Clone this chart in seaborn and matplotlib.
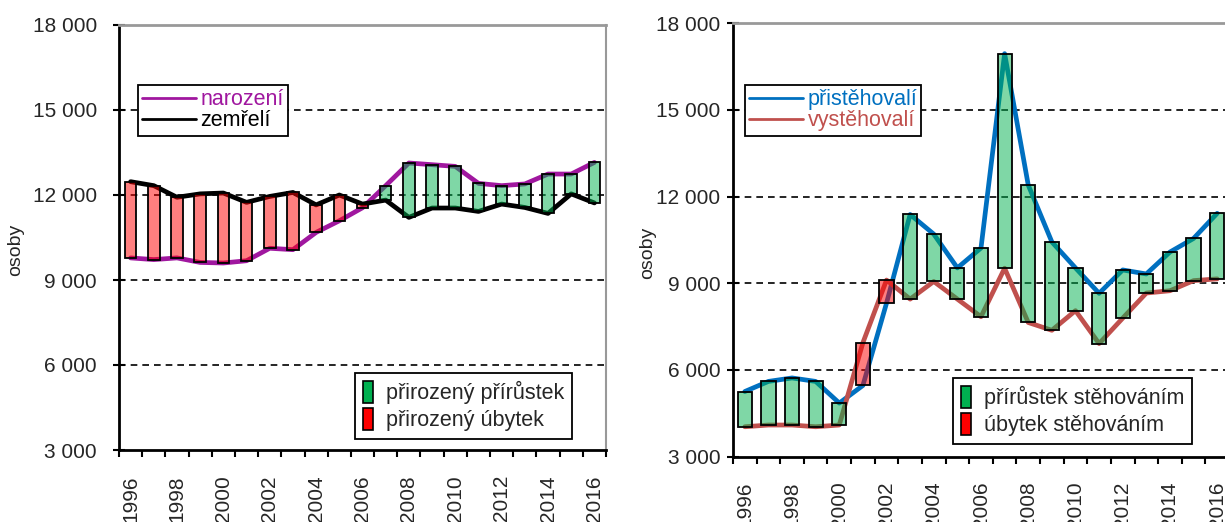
import numpy as np
import pandas as pd
import matplotlib
matplotlib.use("Agg")
import matplotlib.pyplot as plt
from matplotlib.lines import Line2D
from matplotlib.patches import Patch
from matplotlib.ticker import FuncFormatter, FixedLocator
import seaborn as sns

years = list(range(1996, 2017))
narozeni = [9780, 9720, 9780, 9620, 9600, 9680, 10120, 10070, 10680, 11090, 11550,
            12330, 13130, 13070, 13010, 12410, 12330, 12390, 12740, 12740, 13150]
zemreli = [12470, 12330, 11920, 12040, 12070, 11740, 11950, 12090, 11650, 12000, 11680,
           11820, 11210, 11540, 11540, 11420, 11680, 11560, 11350, 12040, 11720]
pristehovali = [5250, 5600, 5720, 5600, 4850, 5460, 8310, 11380, 10700, 9530, 10220,
                16950, 12400, 10430, 9530, 8650, 9460, 9320, 10080, 10550, 11420]
vystehovali = [4030, 4090, 4090, 4030, 4090, 6940, 9110, 8450, 9060, 8450, 7840,
               9520, 7640, 7370, 8050, 6910, 7790, 8660, 8740, 9090, 9150]

y_ticks = [3000, 6000, 9000, 12000, 15000, 18000]
x_labels = list(range(1996, 2017, 2))

sns.set_style("white")
plt.rcParams["font.family"] = ["Liberation Sans", "DejaVu Sans"]

GREEN = "#00b050"
RED = "#ff0000"

fig = plt.figure(figsize=(12.25, 5.22), dpi=100)
axL = fig.add_axes([119/1225, 72/522, 487/1225, 425/522])
axR = fig.add_axes([733/1225, 65.5/522, 496/1225, 433.2/522])


def fmt(v, _):
    s = f"{int(v):,}".replace(",", " ")
    return s


def draw(ax, a, b, ca, cb, width, ypad, line_labels, bar_labels,
         line_anchor, bar_anchor):
    df = pd.DataFrame({"rok": years, "a": a, "b": b})
    for yv in y_ticks[1:-1]:
        ax.axhline(yv, color="black", lw=1.2, ls=(0, (4, 3)), zorder=0)
    sns.lineplot(data=df, x="rok", y="a", color=ca, lw=3.4, ax=ax, zorder=2)
    sns.lineplot(data=df, x="rok", y="b", color=cb, lw=3.4, ax=ax, zorder=2)
    a_arr = np.array(a); b_arr = np.array(b)
    lo = np.minimum(a_arr, b_arr)
    hi = np.maximum(a_arr, b_arr)
    pos = a_arr >= b_arr
    for yr, l, h, p in zip(years, lo, hi, pos):
        fc = (0.0, 0.69, 0.31, 0.5) if p else (1.0, 0.0, 0.0, 0.5)
        ax.bar(yr, h - l, bottom=l, width=width, facecolor=fc,
               edgecolor="black", lw=1.3, zorder=3)
    ax.set_xlim(1995.5, 2016.5)
    ax.set_ylim(3000, 18000)
    ax.yaxis.set_major_locator(FixedLocator(y_ticks))
    ax.yaxis.set_major_formatter(FuncFormatter(fmt))
    ax.set_xticks(x_labels)
    ax.set_xticklabels([str(x) for x in x_labels], rotation=90)
    ax.set_xticks([y + 0.5 for y in range(1995, 2017)], minor=True)
    ax.tick_params(axis="x", which="major", length=0, pad=18, labelsize=15)
    ax.tick_params(axis="x", which="minor", length=5, width=1.5, direction="out",
                   bottom=True, color="black")
    ax.tick_params(axis="y", length=8, width=1.5, direction="inout", left=True,
                   pad=ypad, labelsize=15, color="black")
    ax.set_xlabel("")
    ax.set_ylabel("osoby", fontsize=14)
    for s in ["left", "bottom"]:
        ax.spines[s].set_color("black")
        ax.spines[s].set_linewidth(2)
    ax.spines["top"].set_color("#999999")
    ax.spines["top"].set_linewidth(2)
    ax.spines["right"].set_color("#999999")
    ax.spines["right"].set_linewidth(1.5)
    ax.grid(False)

    h1 = [Line2D([0], [0], color=ca, lw=2), Line2D([0], [0], color=cb, lw=2)]
    leg1 = fig.legend(h1, line_labels, loc="upper left", bbox_to_anchor=line_anchor,
                      bbox_transform=fig.transFigure, fontsize=15.5, frameon=True,
                      fancybox=False, edgecolor="black", framealpha=1,
                      handlelength=2.5, labelspacing=0.0, borderpad=0.2,
                      handletextpad=0.2, borderaxespad=0, labelcolor=[ca, cb])
    leg1.get_frame().set_linewidth(1.3)
    h2 = [Patch(facecolor=GREEN, edgecolor="black", lw=1.2),
          Patch(facecolor=RED, edgecolor="black", lw=1.2)]
    leg2 = fig.legend(h2, bar_labels, loc="upper left", bbox_to_anchor=bar_anchor,
                      bbox_transform=fig.transFigure, fontsize=15.5, frameon=True,
                      fancybox=False, edgecolor="black", framealpha=1,
                      handlelength=0.5, handleheight=1.2, labelspacing=0.2,
                      borderpad=0.35, handletextpad=0.6, borderaxespad=0)
    leg2.get_frame().set_linewidth(1.3)


draw(axL, narozeni, zemreli, "#a0179f", "black", 0.5, 12,
     ["narození", "zemřelí"], ["přirozený přírůstek", "přirozený úbytek"],
     (138/1225, 1 - 85/522), (355/1225, 1 - 373/522))
draw(axR, pristehovali, vystehovali, "#0070c0", "#c0504d", 0.6, 5,
     ["přistěhovalí", "vystěhovalí"], ["přírůstek stěhováním", "úbytek stěhováním"],
     (745/1225, 1 - 85/522), (953/1225, 1 - 378/522))
axR.spines["right"].set_visible(False)
axL.yaxis.set_label_coords(-0.195, 0.47)
axR.yaxis.set_label_coords(-0.155, 0.47)

fig.savefig("out.png", dpi=100)
